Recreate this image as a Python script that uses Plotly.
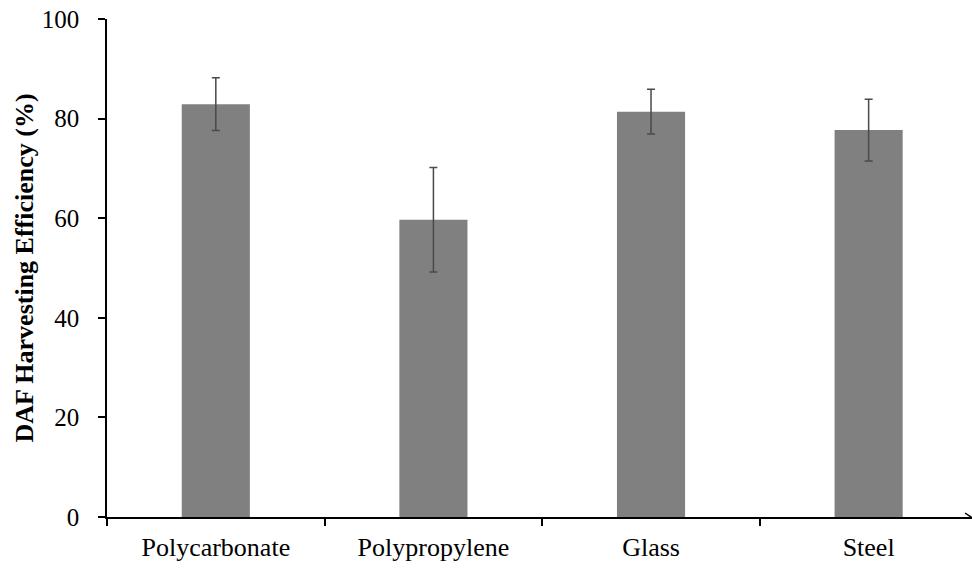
import plotly.graph_objects as go

# Harvesting efficiency by flotation-cell material
materials = ["Polycarbonate", "Polypropylene", "Glass", "Steel"]
efficiency = [82.9, 59.7, 81.4, 77.7]
std_dev = [5.3, 10.5, 4.5, 6.2]
y_ticks = [0, 20, 40, 60, 80, 100]

serif = "Liberation Serif, Times New Roman, serif"

fig = go.Figure(
    go.Bar(
        x=materials,
        y=efficiency,
        width=0.313,
        marker=dict(color="#808080", line=dict(width=0)),
        error_y=dict(
            type="data",
            array=std_dev,
            visible=True,
            color="#4a4a4a",
            thickness=1.5,
            width=4,
        ),
    )
)

fig.update_layout(
    width=972,
    height=569,
    margin=dict(l=107, r=0, t=19, b=52),
    plot_bgcolor="white",
    paper_bgcolor="white",
    showlegend=False,
    font=dict(family=serif, color="black"),
)

fig.update_xaxes(
    type="category",
    range=[-0.5, 3.475],
    showline=True,
    linecolor="black",
    linewidth=1.5,
    ticks="outside",
    tickson="boundaries",
    ticklen=7,
    tickwidth=1.5,
    tickcolor="black",
    showgrid=False,
    tickfont=dict(family=serif, size=26, color="black"),
    ticklabelstandoff=6,
)

fig.update_yaxes(
    range=[0, 100],
    tickvals=y_ticks,
    showline=True,
    linecolor="black",
    linewidth=1.5,
    ticks="outside",
    ticklen=7,
    tickwidth=1.5,
    tickcolor="black",
    showgrid=False,
    zeroline=False,
    tickfont=dict(family=serif, size=25, color="black"),
    ticklabelstandoff=14,
    title=dict(
        text="<b>DAF Harvesting Efficiency (%)</b>",
        font=dict(family=serif, size=26, color="black"),
        standoff=1,
    ),
)

# open arrowhead at the end of the category axis
fig.add_shape(
    type="path",
    xref="paper",
    yref="y",
    xsizemode="pixel",
    ysizemode="pixel",
    xanchor=1,
    yanchor=0,
    path="M-7,4 L-1,0 L-7,-4",
    line=dict(color="black", width=1.5),
)

fig.write_html("out.html")
